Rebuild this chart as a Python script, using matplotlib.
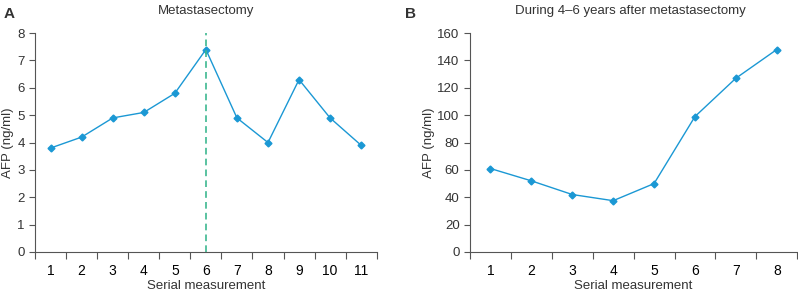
import matplotlib.pyplot as plt

plt.rcParams['font.family'] = ['Liberation Sans', 'DejaVu Sans']

# Panel A data
a_x = list(range(1, 12))
a_afp = [3.8, 4.2, 4.9, 5.1, 5.8, 7.4, 4.9, 4.0, 6.3, 4.9, 3.9]
a_surgery = 6

# Panel B data
b_x = list(range(1, 9))
b_afp = [61, 52, 42, 37.5, 50, 99, 127, 148]

line_color = '#1b98d4'
text_color = '#333333'

fig = plt.figure(figsize=(7.98, 2.93), dpi=100)
ax_a = fig.add_axes([0.044, 0.140, 0.428, 0.747])
ax_b = fig.add_axes([0.589, 0.140, 0.410, 0.747])


def style(ax, n, ymax, ystep):
    ax.set_xlim(0.5, n + 0.5)
    ax.set_ylim(0, ymax)
    ax.set_yticks(range(0, ymax + 1, ystep))
    # ticks sit between categories, labels centred on them
    ax.set_xticks([i + 0.5 for i in range(n + 1)])
    ax.set_xticklabels([])
    ax.set_xticks(range(1, n + 1), minor=True)
    ax.set_xticklabels([str(i) for i in range(1, n + 1)], minor=True)
    ax.tick_params(axis='x', which='major', length=5, width=0.8, color='#555555')
    ax.tick_params(axis='x', which='minor', length=0, pad=9)
    ax.tick_params(axis='y', length=4, width=0.8, color='#555555')
    ax.tick_params(labelsize=9.5, labelcolor=text_color)
    for s in ['top', 'right']:
        ax.spines[s].set_visible(False)
    for s in ['left', 'bottom']:
        ax.spines[s].set_color('#555555')
        ax.spines[s].set_linewidth(0.8)
    ax.set_xlabel('Serial measurement', fontsize=9.5, color=text_color, labelpad=1)
    ax.set_ylabel('AFP (ng/ml)', fontsize=9.5, color=text_color, labelpad=2)


ax_a.plot(a_x, a_afp, color=line_color, lw=1, marker='D', ms=3.5, clip_on=False)
ax_a.axvline(a_surgery, color='#3db890', ls='--', lw=1.2, dashes=(4, 2.5))
style(ax_a, len(a_x), 8, 1)
ax_a.set_title('Metastasectomy', fontsize=9.5, color=text_color, pad=14)

ax_b.plot(b_x, b_afp, color=line_color, lw=1, marker='D', ms=3.5, clip_on=False)
style(ax_b, len(b_x), 160, 20)
ax_b.set_title('During 4\u20136 years after metastasectomy', fontsize=9.5,
               color=text_color, pad=14, x=0.49)

fig.text(0.004, 0.975, 'A', fontsize=11, fontweight='bold', color=text_color, va='top')
fig.text(0.507, 0.975, 'B', fontsize=11, fontweight='bold', color=text_color, va='top')

fig.savefig('out.png', dpi=100)
plt.close(fig)
